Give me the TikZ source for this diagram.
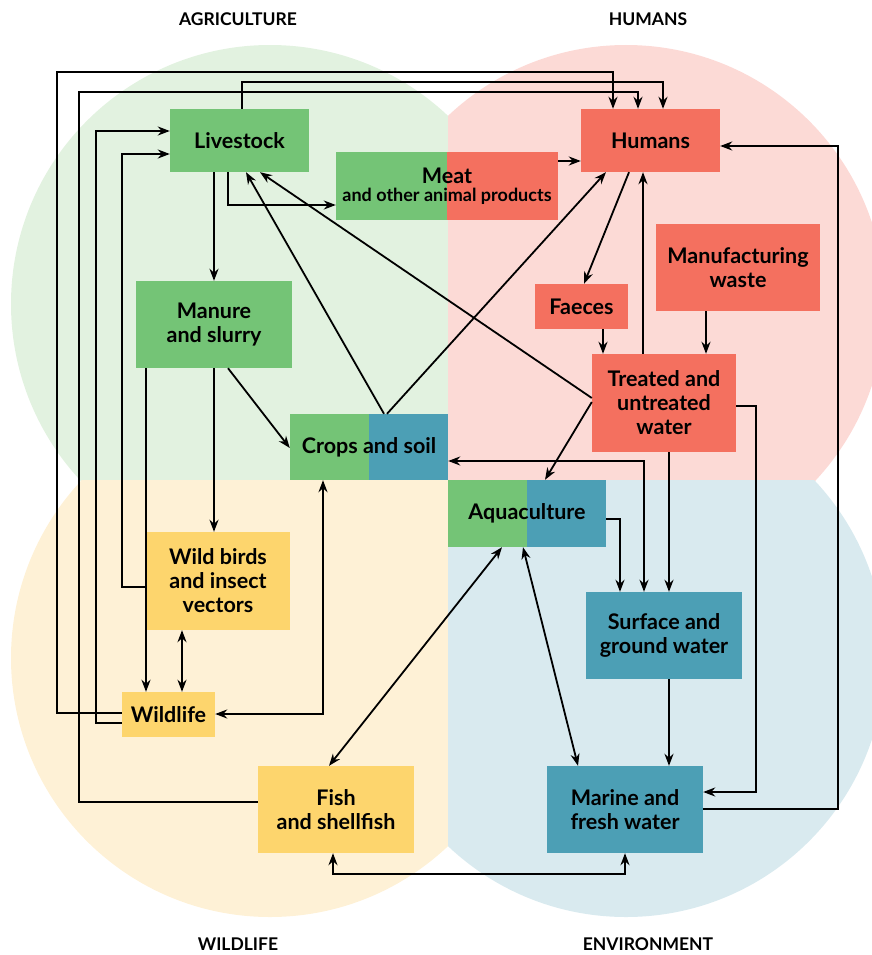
\documentclass[tikz,border=0pt]{standalone}
\usepackage{fontspec}
\setmainfont{Lato}
\usetikzlibrary{arrows.meta}

\definecolor{verde}{HTML}{74C476}
\definecolor{rojo}{HTML}{F4705F}
\definecolor{amarillo}{HTML}{FDD56D}
\definecolor{azul}{HTML}{4C9FB5}
\definecolor{fondoverde}{HTML}{E2F2E0}
\definecolor{fondorojo}{HTML}{FCDAD6}
\definecolor{fondoamarillo}{HTML}{FEF1D6}
\definecolor{fondoazul}{HTML}{D9EAEF}

\tikzset{
  caja/.style={inner sep=0pt, align=center, font=\bfseries\fontsize{21.5}{24}\selectfont},
  mitad/.style 2 args={path picture={
      \fill[#1] (path picture bounding box.north west) rectangle (path picture bounding box.south);
      \fill[#2] (path picture bounding box.south) rectangle (path picture bounding box.north east);}},
  flecha/.style={-{Stealth[length=12pt,width=9pt]}, line width=1.8pt},
  doble/.style={{Stealth[length=12pt,width=9pt]}-{Stealth[length=12pt,width=9pt]}, line width=1.8pt},
  titulo/.style={font=\bfseries\fontsize{17.5}{19}\selectfont}
}

\begin{document}
\begin{tikzpicture}[x=1pt,y=-1pt]
        \useasboundingbox (0,0) rectangle (872,955);
        % Fondos (cuatro circulos recortados)
        \begin{scope}
          \clip (0,0) rectangle (448,480);
          \fill[fondoverde] (270,304) circle[radius=259pt];
        \end{scope}
        \begin{scope}
          \clip (448,0) rectangle (872,480);
          \fill[fondorojo] (626,304) circle[radius=259pt];
        \end{scope}
        \begin{scope}
          \clip (0,480) rectangle (448,955);
          \fill[fondoamarillo] (270,658) circle[radius=259pt];
        \end{scope}
        \begin{scope}
          \clip (448,480) rectangle (872,955);
          \fill[fondoazul] (626,658) circle[radius=259pt];
        \end{scope}
        % Titulos
        \node[titulo] (tagri) at (238,19) {AGRICULTURE};
        \node[titulo] (thum) at (648,19) {HUMANS};
        \node[titulo] (twild) at (238,944) {WILDLIFE};
        \node[titulo] (tenv) at (648,944) {ENVIRONMENT};
        % Cajas
        \node[caja, fill=verde, minimum width=139pt, minimum height=63pt] (livestock) at (239.5,140.5) {Livestock};
        \node[caja, mitad={verde}{rojo}, minimum width=222pt, minimum height=68pt] (meat) at (447,186)
          {Meat\\[-6pt]\fontsize{18}{18}\selectfont and other animal products};
        \node[caja, fill=rojo, minimum width=139pt, minimum height=63pt] (humans) at (650.5,140.5) {Humans};
        \node[caja, fill=verde, minimum width=156pt, minimum height=87pt] (manure) at (214,324.5) {Manure\\and slurry};
        \node[caja, mitad={verde}{azul}, minimum width=158pt, minimum height=66pt] (crops) at (369,447) {Crops and soil};
        \node[caja, fill=rojo, minimum width=93pt, minimum height=45pt] (faeces) at (581.5,306.5) {Faeces};
        \node[caja, fill=rojo, minimum width=164pt, minimum height=87pt] (manuf) at (738,267.5) {Manufacturing\\waste};
        \node[caja, fill=rojo, minimum width=144pt, minimum height=98pt] (treated) at (664,403) {Treated and\\untreated\\water};
        \node[caja, mitad={verde}{azul}, minimum width=158pt, minimum height=67pt] (aqua) at (527,513.5) {Aquaculture};
        \node[caja, fill=azul, minimum width=156pt, minimum height=87pt] (surface) at (664,635.5) {Surface and\\ground water};
        \node[caja, fill=azul, minimum width=156pt, minimum height=87pt] (marine) at (625,809.5) {Marine and\\fresh water};
        \node[caja, fill=amarillo, minimum width=144pt, minimum height=98pt] (birds) at (218,581) {Wild birds\\and insect\\vectors};
        \node[caja, fill=amarillo, minimum width=93pt, minimum height=45pt] (wildlife) at (168.5,714.5) {Wildlife};
        \node[caja, fill=amarillo, minimum width=156pt, minimum height=87pt] (fish) at (336,809.5) {Fish\\and shellfish};
        % Conexiones hacia Humans
        \draw[flecha] (wildlife.west |- 0,713) -| (57,72) -| (humans.north -| 613,0);
        \draw[flecha] (livestock.north -| 242,0) |- (663,82) -- (humans.north -| 663,0);
        \draw[flecha] (fish.west |- 0,802) -| (79,92) -| (humans.north -| 638,0);
        \draw[flecha] (meat.east |- 0,161) -- (humans.west |- 0,161);
        \draw[flecha] (crops.north -| 387,0) -- (humans.south -| 606,0);
        \draw[flecha] (treated.north -| 643,0) -- (humans.south -| 643,0);
        \draw[flecha] (marine.east |- 0,809) -| (838,146) -- (humans.east |- 0,146);
        % Conexiones hacia Livestock
        \draw[flecha] (wildlife.west |- 0,723) -| (96,131) -- (livestock.west |- 0,131);
        \draw[flecha] (birds.west |- 0,587) -| (122,154) -- (livestock.west |- 0,154);
        \draw[flecha] (crops.north -| 384,0) -- (livestock.south -| 246,0);
        \draw[flecha] (treated.west |- 0,398) -- (livestock.south -| 260,0);
        % Desde Livestock y Manure
        \draw[flecha] (livestock.south -| 214,0) -- (manure.north -| 214,0);
        \draw[flecha] (livestock.south -| 228,0) |- (meat.west |- 0,205);
        \draw[flecha] (manure.south -| 228,0) -- (crops.west |- 0,448);
        \draw[flecha] (manure.south -| 214,0) -- (birds.north -| 214,0);
        \draw[flecha] (manure.south -| 146,0) -- (wildlife.north -| 146,0);
        % Humans, Faeces y agua tratada
        \draw[flecha] (humans.south -| 629,0) -- (faeces.north -| 584,0);
        \draw[flecha] (faeces.south -| 603,0) -- (treated.north -| 603,0);
        \draw[flecha] (manuf.south -| 706,0) -- (treated.north -| 706,0);
        \draw[flecha] (treated.west |- 0,402) -- (aqua.north -| 545,0);
        \draw[flecha] (treated.south -| 669,0) -- (surface.north -| 669,0);
        \draw[flecha] (treated.east |- 0,406) -| (756,792) -- (marine.east |- 0,792);
        % Agua
        \draw[doble] (crops.east |- 0,461) -| (surface.north -| 644,0);
        \draw[flecha] (aqua.east |- 0,519) -| (surface.north -| 620,0);
        \draw[flecha] (surface.south -| 669,0) -- (marine.north -| 669,0);
        \draw[doble] (aqua.south -| 523,0) -- (marine.north -| 578,0);
        \draw[doble] (aqua.south -| 502,0) -- (fish.north -| 329,0);
        \draw[doble] (fish.south -| 333,0) |- (625,874) -- (marine.south -| 625,0);
        % Fauna
        \draw[doble] (birds.south -| 182,0) -- (wildlife.north -| 182,0);
        \draw[doble] (wildlife.east |- 0,714) -| (crops.south -| 323,0);
\end{tikzpicture}
\end{document}
